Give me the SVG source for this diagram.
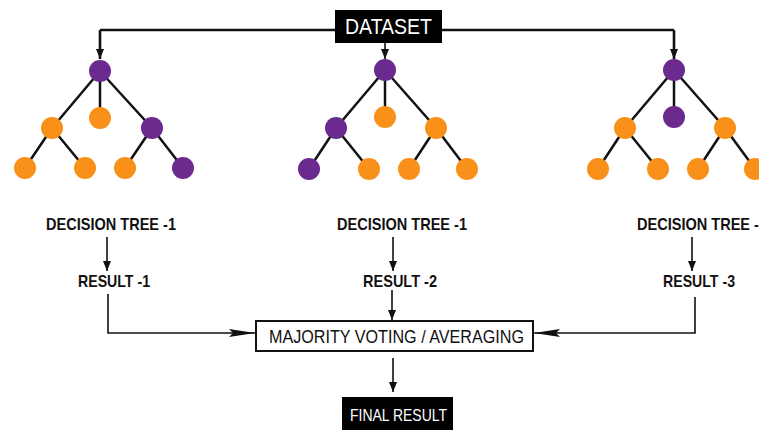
<svg xmlns="http://www.w3.org/2000/svg" width="759" height="430" viewBox="0 0 759 430">
  <style>
    .edge { stroke: #111; stroke-width: 2.5; }
    .p { fill: #6b2a8d; }
    .o { fill: #f8901a; }
    .conn { fill: none; stroke: #111; stroke-width: 1.6; }
    .top { fill: none; stroke: #111; stroke-width: 2.6; }
    .lbl { font-family: "Liberation Sans", Arial, sans-serif; font-weight: bold; font-size: 17px; fill: #111; }
    .box-text { font-family: "Liberation Sans", Arial, sans-serif; fill: #fff; }
  </style>
  <defs>
    <marker id="head" markerUnits="userSpaceOnUse" markerWidth="10" markerHeight="10" viewBox="0 0 10 10" refX="10" refY="5" orient="auto">
      <path d="M0,1 L10,5 L0,9 z" fill="#111"/>
    </marker>
    <marker id="longhead" markerUnits="userSpaceOnUse" markerWidth="26" markerHeight="10" viewBox="0 0 26 10" refX="26" refY="5" orient="auto">
      <path d="M0,1 L26,5 L0,9 L4,5 z" fill="#111"/>
    </marker>
  </defs>
  <rect width="759" height="430" fill="#fff"/>

  <g id="connectors">
    <path class="top" d="M100,30 H674"/>
    <path class="top" d="M100,30 V59" marker-end="url(#head)"/>
    <path class="top" d="M674,30 V59" marker-end="url(#head)"/>
    <path class="conn" d="M385,43 V59" marker-end="url(#head)"/>
    <path class="conn" d="M107,237 V271" marker-end="url(#head)"/>
    <path class="conn" d="M393,237 V271" marker-end="url(#head)"/>
    <path class="conn" d="M692,237 V271" marker-end="url(#head)"/>
    <path class="conn" d="M108,294 V333 H255" marker-end="url(#longhead)"/>
    <path class="conn" d="M392,290 V320" marker-end="url(#head)"/>
    <path class="conn" d="M695,297 V333 H534" marker-end="url(#longhead)"/>
    <path class="conn" d="M393,358 V392" marker-end="url(#head)"/>
  </g>

  <g id="dataset">
    <rect x="335" y="10" width="107" height="33" fill="#000"/>
    <text class="box-text" x="345" y="34" font-size="22" textLength="87" lengthAdjust="spacingAndGlyphs">DATASET</text>
  </g>

  <g id="tree-1">
    <g class="edge">
      <line x1="100" y1="71" x2="52" y2="128"/>
      <line x1="100" y1="71" x2="100" y2="118"/>
      <line x1="100" y1="71" x2="152" y2="128"/>
      <line x1="52" y1="128" x2="25" y2="168"/>
      <line x1="52" y1="128" x2="85" y2="168"/>
      <line x1="152" y1="128" x2="125" y2="168"/>
      <line x1="152" y1="128" x2="183" y2="168"/>
    </g>
    <circle class="p" cx="100" cy="71" r="11"/>
    <circle class="o" cx="52" cy="128" r="11"/>
    <circle class="o" cx="100" cy="118" r="11"/>
    <circle class="p" cx="152" cy="128" r="11"/>
    <circle class="o" cx="25" cy="168" r="11"/>
    <circle class="o" cx="85" cy="168" r="11"/>
    <circle class="o" cx="125" cy="168" r="11"/>
    <circle class="p" cx="183" cy="168" r="11"/>
  </g>

  <g id="tree-2">
    <g class="edge">
      <line x1="385" y1="70" x2="336" y2="128"/>
      <line x1="385" y1="70" x2="385" y2="117"/>
      <line x1="385" y1="70" x2="436" y2="128"/>
      <line x1="336" y1="128" x2="309" y2="169"/>
      <line x1="336" y1="128" x2="369" y2="169"/>
      <line x1="436" y1="128" x2="409" y2="169"/>
      <line x1="436" y1="128" x2="467" y2="169"/>
    </g>
    <circle class="p" cx="385" cy="70" r="11"/>
    <circle class="p" cx="336" cy="128" r="11"/>
    <circle class="o" cx="385" cy="117" r="11"/>
    <circle class="o" cx="436" cy="128" r="11"/>
    <circle class="p" cx="309" cy="169" r="11"/>
    <circle class="o" cx="369" cy="169" r="11"/>
    <circle class="o" cx="409" cy="169" r="11"/>
    <circle class="o" cx="467" cy="169" r="11"/>
  </g>

  <g id="tree-3">
    <g class="edge">
      <line x1="674" y1="70" x2="625" y2="128"/>
      <line x1="674" y1="70" x2="674" y2="117"/>
      <line x1="674" y1="70" x2="725" y2="128"/>
      <line x1="625" y1="128" x2="598" y2="169"/>
      <line x1="625" y1="128" x2="658" y2="169"/>
      <line x1="725" y1="128" x2="698" y2="169"/>
      <line x1="725" y1="128" x2="755" y2="169"/>
    </g>
    <circle class="p" cx="674" cy="70" r="11"/>
    <circle class="o" cx="625" cy="128" r="11"/>
    <circle class="p" cx="674" cy="117" r="11"/>
    <circle class="o" cx="725" cy="128" r="11"/>
    <circle class="o" cx="598" cy="169" r="11"/>
    <circle class="o" cx="658" cy="169" r="11"/>
    <circle class="o" cx="698" cy="169" r="11"/>
    <circle class="o" cx="755" cy="169" r="11"/>
  </g>

  <g id="label-tree-1">
    <text class="lbl" x="46" y="230" textLength="130" lengthAdjust="spacingAndGlyphs">DECISION TREE -1</text>
  </g>
  <g id="label-tree-2">
    <text class="lbl" x="337" y="230" textLength="130" lengthAdjust="spacingAndGlyphs">DECISION TREE -1</text>
  </g>
  <!-- the third label runs past the right edge, like the third tree -->
  <g id="label-tree-3">
    <text class="lbl" x="637" y="230" textLength="130" lengthAdjust="spacingAndGlyphs">DECISION TREE -1</text>
  </g>

  <g id="result-1">
    <text class="lbl" x="78" y="287" textLength="72" lengthAdjust="spacingAndGlyphs">RESULT -1</text>
  </g>
  <g id="result-2">
    <text class="lbl" x="363" y="287" textLength="74" lengthAdjust="spacingAndGlyphs">RESULT -2</text>
  </g>
  <g id="result-3">
    <text class="lbl" x="663" y="287" textLength="72" lengthAdjust="spacingAndGlyphs">RESULT -3</text>
  </g>

  <g id="majority">
    <rect x="256" y="321" width="277" height="30" fill="#fff" stroke="#111" stroke-width="2"/>
    <text x="269" y="343" font-family="Liberation Sans, Arial, sans-serif" font-size="18.5" fill="#111" textLength="255" lengthAdjust="spacingAndGlyphs">MAJORITY VOTING / AVERAGING</text>
  </g>

  <g id="final-result">
    <rect x="342" y="397" width="111" height="33" fill="#000"/>
    <text class="box-text" x="350" y="421" font-size="17" textLength="97" lengthAdjust="spacingAndGlyphs">FINAL RESULT</text>
  </g>
</svg>
